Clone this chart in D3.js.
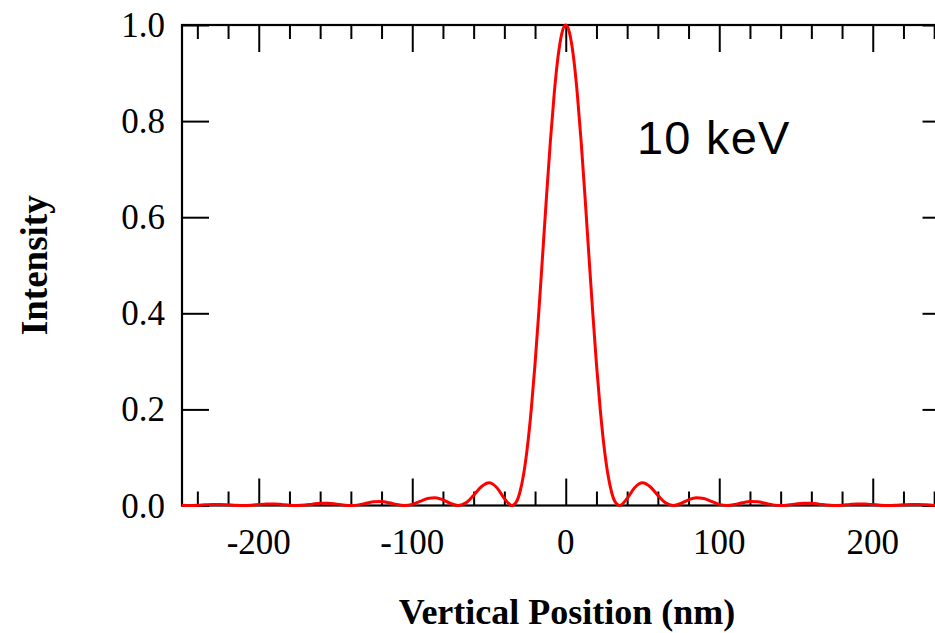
<!DOCTYPE html>
<html>
<head>
<meta charset="utf-8">
<script src="https://cdn.jsdelivr.net/npm/d3@7"></script>
<style>
  html, body { margin: 0; padding: 0; background: #fff; }
  svg { display: block; }
</style>
</head>
<body>
<svg id="chart" width="935" height="633"></svg>
<script>
// ---- data ----
const positionNm = [
  -250, -245, -240, -235, -230, -225, -220, -215, -210, -205,
  -200, -195, -190, -185, -180, -175, -170, -165, -160, -155,
  -150, -145, -140, -135, -130, -125, -120, -115, -110, -105,
  -100, -95, -90, -85, -80, -75, -70, -65, -60, -55,
  -50, -45, -40, -35, -32.5, -30, -27.5, -25, -22.5, -20,
  -17.5, -15, -12.5, -10, -7.5, -5, -2.5, 0, 2.5, 5,
  7.5, 10, 12.5, 15, 17.5, 20, 22.5, 25, 27.5, 30,
  32.5, 35, 40, 45, 50, 55, 60, 65, 70, 75,
  80, 85, 90, 95, 100, 105, 110, 115, 120, 125,
  130, 135, 140, 145, 150, 155, 160, 165, 170, 175,
  180, 185, 190, 195, 200, 205, 210, 215, 220, 225,
  230, 235, 240, 245, 250
];
const intensity = [
  0.0004, 0.0, 0.0004, 0.0014, 0.0022, 0.0023, 0.0016, 0.0005, 0.0, 0.0006,
  0.0019, 0.0031, 0.0033, 0.0022, 0.0007, 0.0, 0.0008, 0.0028, 0.0046, 0.0049,
  0.0034, 0.0011, 0.0, 0.0013, 0.0045, 0.0076, 0.0082, 0.0057, 0.0019, 0.0,
  0.0023, 0.0084, 0.0146, 0.0163, 0.0119, 0.0042, 0.0, 0.0055, 0.0211, 0.0390,
  0.0472, 0.0375, 0.0146, 0.0, 0.0058, 0.0260, 0.0638, 0.1214, 0.1990, 0.2949,
  0.4053, 0.5243, 0.6448, 0.7586, 0.8578, 0.9347, 0.9833, 1.0, 0.9833, 0.9347,
  0.8578, 0.7586, 0.6448, 0.5243, 0.4053, 0.2949, 0.1990, 0.1214, 0.0638, 0.0260,
  0.0058, 0.0, 0.0146, 0.0375, 0.0472, 0.0390, 0.0211, 0.0055, 0.0, 0.0042,
  0.0119, 0.0163, 0.0146, 0.0084, 0.0023, 0.0, 0.0019, 0.0057, 0.0082, 0.0076,
  0.0045, 0.0013, 0.0, 0.0011, 0.0034, 0.0049, 0.0046, 0.0028, 0.0008, 0.0,
  0.0007, 0.0022, 0.0033, 0.0031, 0.0019, 0.0006, 0.0, 0.0005, 0.0016, 0.0023,
  0.0022, 0.0014, 0.0004, 0.0, 0.0004
];
const xMajorTicks = [-200, -100, 0, 100, 200];
const xMinorTicks = [-240, -220, -180, -160, -140, -120, -80, -60, -40, -20,
                     20, 40, 60, 80, 120, 140, 160, 180, 220, 240];
const yTicks = [0.0, 0.2, 0.4, 0.6, 0.8, 1.0];
const xTickLabels = ["-200", "-100", "0", "100", "200"];
const yTickLabels = ["0.0", "0.2", "0.4", "0.6", "0.8", "1.0"];
const annotation = "10 keV";
const xTitle = "Vertical Position (nm)";
const yTitle = "Intensity";

(function () {
  // ---- layout ----
  const svg = d3.select("#chart");
  const pLeft = 182, pRight = 949.5, pTop = 25, pBottom = 505.5;
  const majorLen = 27, minorLen = 14;
  const serif = "'Liberation Serif', 'Times New Roman', Times, serif";

  const x = d3.scaleLinear().domain([-250, 250]).range([pLeft, pRight]);
  const y = d3.scaleLinear().domain([0, 1]).range([pBottom, pTop]);

  // bottom axis (ticks inward = up)
  const gBottom = svg.append("g").attr("transform", `translate(0,${pBottom})`);
  gBottom.call(d3.axisTop(x).tickValues(xMajorTicks).tickSize(majorLen).tickFormat(""));
  gBottom.append("g").call(d3.axisTop(x).tickValues(xMinorTicks).tickSize(minorLen).tickFormat(""));

  // top axis (ticks inward = down)
  const gTop = svg.append("g").attr("transform", `translate(0,${pTop})`);
  gTop.call(d3.axisBottom(x).tickValues(xMajorTicks).tickSize(majorLen).tickFormat(""));
  gTop.append("g").call(d3.axisBottom(x).tickValues(xMinorTicks).tickSize(minorLen).tickFormat(""));

  // left axis (ticks inward = right)
  svg.append("g").attr("transform", `translate(${pLeft},0)`)
    .call(d3.axisRight(y).tickValues(yTicks).tickSize(majorLen).tickFormat(""));

  // right axis (ticks inward = left)
  svg.append("g").attr("transform", `translate(${pRight},0)`)
    .call(d3.axisLeft(y).tickValues(yTicks).tickSize(majorLen).tickFormat(""));

  svg.selectAll(".domain").remove();
  svg.selectAll(".tick line").attr("stroke", "#000").attr("stroke-width", 2);

  // frame
  svg.append("rect")
    .attr("x", pLeft).attr("y", pTop)
    .attr("width", pRight - pLeft).attr("height", pBottom - pTop)
    .attr("fill", "none").attr("stroke", "#000").attr("stroke-width", 2.2);

  // tick labels
  svg.append("g").selectAll("text")
    .data(xMajorTicks)
    .join("text")
    .attr("x", d => x(d))
    .attr("y", 554)
    .attr("text-anchor", "middle")
    .attr("font-family", serif)
    .attr("font-size", 35)
    .attr("fill", "#000")
    .text((d, i) => xTickLabels[i]);

  svg.append("g").selectAll("text")
    .data(yTicks)
    .join("text")
    .attr("x", 165)
    .attr("y", d => y(d) + 12)
    .attr("text-anchor", "end")
    .attr("font-family", serif)
    .attr("font-size", 35)
    .attr("fill", "#000")
    .text((d, i) => yTickLabels[i]);

  // curve
  const pts = positionNm.map((p, i) => [p, intensity[i]]);
  svg.append("path")
    .datum(pts)
    .attr("fill", "none")
    .attr("stroke", "#ff0000")
    .attr("stroke-width", 3)
    .attr("stroke-linejoin", "round")
    .attr("d", d3.line().x(d => x(d[0])).y(d => y(d[1])).curve(d3.curveMonotoneX));

  // annotation
  svg.append("text")
    .attr("x", 637)
    .attr("y", 154)
    .attr("font-family", "'Liberation Sans', Arial, Helvetica, sans-serif")
    .attr("font-size", 47)
    .attr("letter-spacing", 1.2)
    .attr("fill", "#000")
    .text(annotation);

  // axis titles
  svg.append("text")
    .attr("x", 567)
    .attr("y", 624)
    .attr("text-anchor", "middle")
    .attr("font-family", serif)
    .attr("font-weight", "bold")
    .attr("font-size", 36)
    .attr("fill", "#000")
    .text(xTitle);

  svg.append("text")
    .attr("transform", `translate(47,${(pTop + pBottom) / 2}) rotate(-90)`)
    .attr("text-anchor", "middle")
    .attr("font-family", serif)
    .attr("font-weight", "bold")
    .attr("font-size", 37)
    .attr("fill", "#000")
    .text(yTitle);
})();
</script>
</body>
</html>
